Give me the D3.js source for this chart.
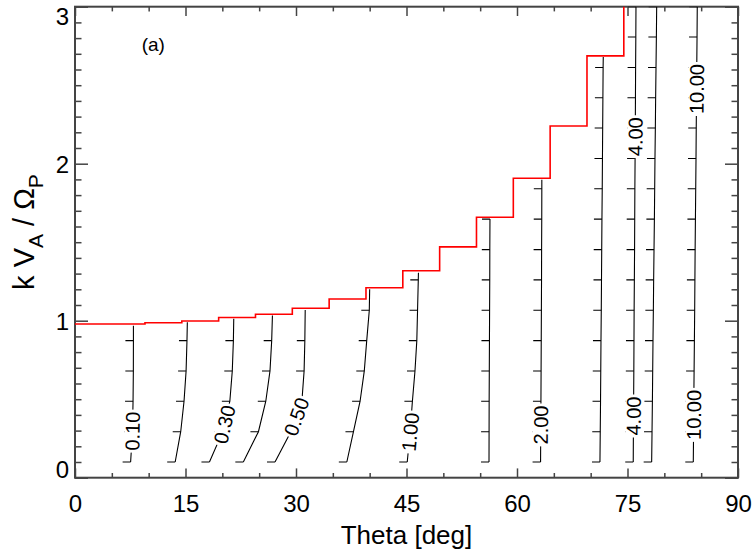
<!DOCTYPE html>
<html>
<head>
<meta charset="utf-8">
<script src="https://cdn.jsdelivr.net/npm/d3@7"></script>
<style>
body { margin: 0; background: #fff; }
svg { display: block; }
text { font-family: "Liberation Sans", Arial, Helvetica, sans-serif; }
</style>
</head>
<body>
<svg width="756" height="555"></svg>
<script>
const xTicks = [0, 15, 30, 45, 60, 75, 90]
const xMinor = [5, 10, 20, 25, 35, 40, 50, 55, 65, 70, 80, 85]
const yTicks = [0, 1, 2, 3]
const yMinor = [0.1, 0.2, 0.3, 0.4, 0.5, 0.6, 0.7, 0.8, 0.9, 1.1, 1.2, 1.3, 1.4, 1.5, 1.6, 1.7, 1.8, 1.9,
                2.1, 2.2, 2.3, 2.4, 2.5, 2.6, 2.7, 2.8, 2.9]

// red boundary, step edges (deg) and level of each step
const stepEdges = [0, 9.5, 14.5, 19.5, 24.5, 29.5, 34.5, 39.5, 44.5, 49.5, 54.5, 59.5, 64.5, 69.5, 74.5, 79.5]
const stepK = [0.979, 0.987, 0.998, 1.020, 1.041, 1.079, 1.138, 1.210, 1.318, 1.470, 1.659, 1.907, 2.240, 2.687, 3.30, 3.30]

// k values where the contour points (and their little ticks) sit
const kGrid = [0.10, 0.293, 0.487, 0.68, 0.873, 1.067, 1.26, 1.453, 1.647, 1.84, 2.033, 2.227, 2.42, 2.613, 2.807, 3.0]

// theta of each contour at the kGrid values
const curveThetas = [
    [7.55, 7.80, 7.88, 7.92, 7.93],
    [13.60, 14.35, 14.80, 15.08, 15.20],
    [18.25, 20.05, 21.02, 21.35, 21.50],
    [22.85, 24.90, 25.90, 26.47, 26.70],
    [27.15, 29.30, 30.80, 31.10, 31.20],
    [36.90, 37.80, 38.70, 39.27, 39.60, 39.95],
    [45.10, 45.50, 45.80, 46.15, 46.40, 46.50, 46.60],
    [56.20, 56.21, 56.22, 56.24, 56.26, 56.28, 56.30, 56.31, 56.33],
    [63.20, 63.22, 63.25, 63.27, 63.29, 63.31, 63.33, 63.34, 63.36, 63.37],
    [71.26, 71.30, 71.34, 71.37, 71.40, 71.44, 71.47, 71.50, 71.53, 71.57, 71.60, 71.63, 71.66, 71.69],
    [75.78, 75.80, 75.83, 75.86, 75.88, 75.90, 75.93, 75.96, 75.98, 76.00, 76.03, 76.06, 76.08, 76.10, 76.13, 76.15],
    [78.28, 78.33, 78.38, 78.42, 78.46, 78.51, 78.55, 78.60, 78.65, 78.69, 78.73, 78.78, 78.82, 78.87, 78.92, 78.96],
    [83.93, 83.97, 84.00, 84.04, 84.08, 84.12, 84.15, 84.18, 84.22, 84.26, 84.30, 84.33, 84.37, 84.40, 84.44, 84.47]
]
// last point of each contour, where it meets the red line (null = ends on the grid)
const curveTops = [[7.93, 0.968], [15.25, 0.990], [21.55, 1.013], [26.80, 1.033], [31.25, 1.068],
                   [40.00, 1.200], [46.62, 1.306], null, [63.37, 1.897], [71.71, 2.680], null, null, null]

const labelText = ["0.10", "0.30", "0.50", "1.00", "2.00", "4.00", "4.00", "10.00", "10.00"]
const labelCurve = [0, 2, 4, 6, 8, 10, 10, 12, 12]
const labelK = [0.297, 0.339, 0.389, 0.291, 0.336, 0.393, 2.172, 0.400, 2.476]

const svg = d3.select("svg")

const x = d3.scaleLinear().domain([0, 90]).range([75, 738])
const y = d3.scaleLinear().domain([0, 3]).range([477.7, 6.7])

svg.append("defs").append("clipPath").attr("id", "plot")
    .append("rect")
    .attr("x", x(0)).attr("y", y(3))
    .attr("width", x(90) - x(0)).attr("height", y(0) - y(3))

const axisColor = "#444"

function styleAxis(g) {
    g.select(".domain").remove()
    g.selectAll(".tick line").attr("stroke", axisColor).attr("stroke-width", 1.5)
    g.selectAll("text").attr("fill", "#000")
    g.attr("font-size", 24).attr("font-family", null)
}

// bottom
svg.append("g").attr("transform", `translate(0,${y(0)})`)
    .call(d3.axisBottom(x).tickValues(xTicks).tickSize(-9.3).tickPadding(17).tickFormat(d3.format("d")))
    .call(styleAxis)
svg.append("g").attr("transform", `translate(0,${y(0)})`)
    .call(d3.axisBottom(x).tickValues(xMinor).tickSize(-4.7).tickFormat(""))
    .call(styleAxis)
// top
svg.append("g").attr("transform", `translate(0,${y(3)})`)
    .call(d3.axisTop(x).tickValues(xTicks).tickSize(-9.3).tickFormat(""))
    .call(styleAxis)
svg.append("g").attr("transform", `translate(0,${y(3)})`)
    .call(d3.axisTop(x).tickValues(xMinor).tickSize(-4.7).tickFormat(""))
    .call(styleAxis)
// left
const leftAxis = svg.append("g").attr("transform", `translate(${x(0)},0)`)
    .call(d3.axisLeft(y).tickValues(yTicks).tickSize(-13).tickPadding(6).tickFormat(d3.format("d")))
    .call(styleAxis)
leftAxis.selectAll("text").attr("dy", d => d === 3 ? "0.74em" : d === 0 ? "0em" : "0.36em")
svg.append("g").attr("transform", `translate(${x(0)},0)`)
    .call(d3.axisLeft(y).tickValues(yMinor).tickSize(-6.5).tickFormat(""))
    .call(styleAxis)
// right
svg.append("g").attr("transform", `translate(${x(90)},0)`)
    .call(d3.axisRight(y).tickValues(yTicks).tickSize(-13).tickFormat(""))
    .call(styleAxis)
svg.append("g").attr("transform", `translate(${x(90)},0)`)
    .call(d3.axisRight(y).tickValues(yMinor).tickSize(-6.5).tickFormat(""))
    .call(styleAxis)

svg.append("rect")
    .attr("x", x(0)).attr("y", y(3))
    .attr("width", x(90) - x(0)).attr("height", y(0) - y(3))
    .attr("fill", "none").attr("stroke", axisColor).attr("stroke-width", 2)

const line = d3.line().x(d => x(d[0])).y(d => y(d[1]))

// contours
const curves = curveThetas.map((ts, i) => {
    const pts = ts.map((t, j) => [t, kGrid[j]])
    if (curveTops[i]) pts.push(curveTops[i])
    return pts
})

const contourG = svg.append("g").attr("clip-path", "url(#plot)")

curves.forEach((pts, i) => {
    contourG.append("path")
        .attr("d", line(pts))
        .attr("fill", "none")
        .attr("stroke", "#000")
        .attr("stroke-width", 1.1)

    contourG.selectAll(null)
        .data(curveThetas[i].map((t, j) => [t, kGrid[j]]))
        .enter()
        .append("line")
        .attr("x1", d => x(d[0]) - 8)
        .attr("x2", d => x(d[0]))
        .attr("y1", d => y(d[1]))
        .attr("y2", d => y(d[1]))
        .attr("stroke", "#000")
        .attr("stroke-width", 1.1)
})

// labels sit on the contour, turned along it
labelText.forEach((txt, i) => {
    const pts = curves[labelCurve[i]]
    const k = labelK[i]
    let j = 0
    while (j < pts.length - 2 && pts[j + 1][1] < k) j++
    const p0 = pts[j], p1 = pts[j + 1]
    const f = (k - p0[1]) / (p1[1] - p0[1])
    const px = x(p0[0] + f * (p1[0] - p0[0]))
    const py = y(k)
    const ang = Math.atan2(y(p1[1]) - y(p0[1]), x(p1[0]) - x(p0[0])) * 180 / Math.PI

    const lg = svg.append("g").attr("transform", `translate(${px},${py}) rotate(${ang})`)
    const rect = lg.append("rect").attr("fill", "#fff")
    const t = lg.append("text")
        .attr("text-anchor", "middle")
        .attr("dy", "0.36em")
        .attr("font-size", 20)
        .text(txt)
    const w = t.node().getComputedTextLength()
    rect.attr("x", -w / 2 - 2).attr("y", -8).attr("width", w + 4).attr("height", 16)
})

// red boundary
svg.append("path")
    .attr("clip-path", "url(#plot)")
    .attr("d", d3.line().x(d => x(d[0])).y(d => y(d[1])).curve(d3.curveStepAfter)(stepEdges.map((e, i) => [e, stepK[i]])))
    .attr("fill", "none")
    .attr("stroke", "#ff0000")
    .attr("stroke-width", 1.6)

svg.append("text")
    .attr("x", 141.7).attr("y", 51)
    .attr("font-size", 19)
    .text("(a)")

svg.append("text")
    .attr("x", (x(0) + x(90)) / 2).attr("y", 543.5)
    .attr("text-anchor", "middle")
    .attr("font-size", 26)
    .text("Theta [deg]")

const yTitle = svg.append("text")
    .attr("transform", "translate(34,232) rotate(-90)")
    .attr("text-anchor", "middle")
    .attr("font-size", 29)
yTitle.append("tspan").text("k V")
yTitle.append("tspan").attr("dy", 9).attr("font-size", 21).text("A")
yTitle.append("tspan").attr("dy", -9).text(" / Ω")
yTitle.append("tspan").attr("dy", 9).attr("font-size", 21).text("P")
</script>
</body>
</html>
